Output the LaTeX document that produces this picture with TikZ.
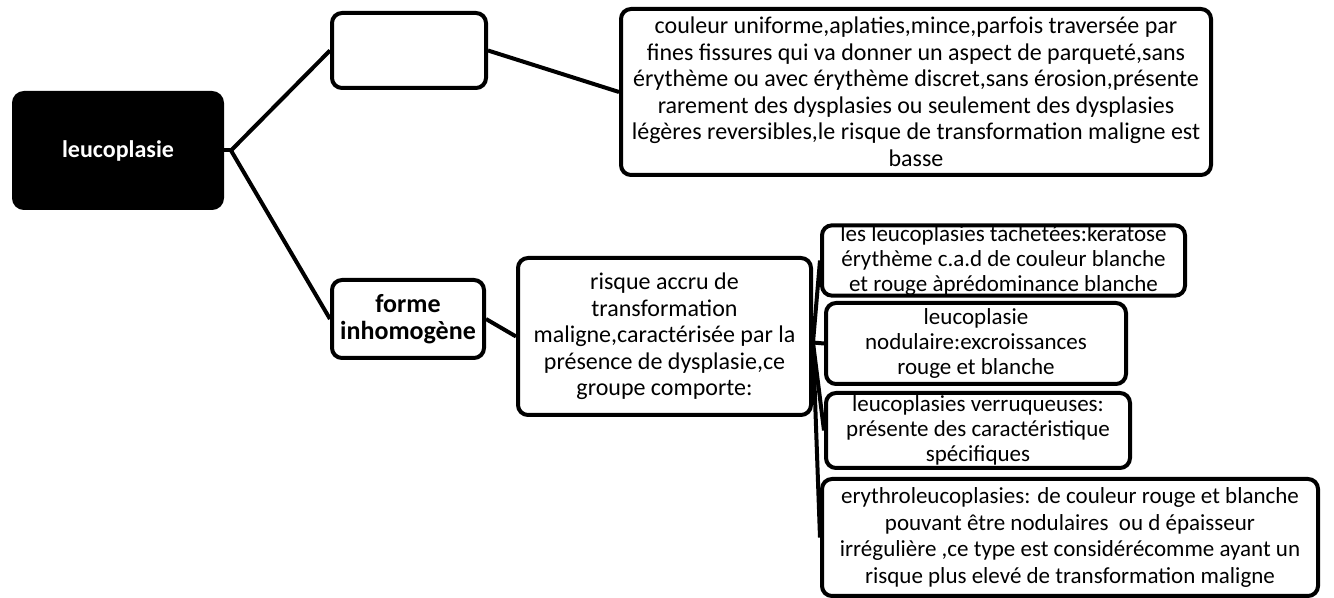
\documentclass[tikz,border=0pt]{standalone}
\usepackage{fontspec}
\setmainfont{Carlito}
\usepackage{tikz}
\usetikzlibrary{positioning}
\definecolor{inkblack}{RGB}{0,0,0}
\definecolor{paperwhite}{RGB}{255,255,255}

\begin{document}
\begin{tikzpicture}[
  x=0.5pt,y=-0.5pt,
  card/.style={
    draw=inkblack,
    fill=paperwhite,
    line width=2pt,
    rounded corners=5pt,
    inner sep=0pt,
    align=center,
    font=\fontsize{12}{13.25}\selectfont
  },
  leaf/.style={card,font=\fontsize{11.5}{12.6}\selectfont},
  root/.style={card,fill=inkblack,text=paperwhite,
    font=\fontsize{12}{14}\selectfont\bfseries},
  branch/.style={card,font=\fontsize{13}{13.5}\selectfont\bfseries},
  link/.style={draw=inkblack,line width=2pt}
]
\useasboundingbox (0,0) rectangle (1334,598);

\node[root,minimum width=104pt,minimum height=57.5pt] (leuco) at (118,150.5)
  {leucoplasie};
\node[card,minimum width=77pt,minimum height=37.5pt] (homo) at (409,50.5) {};
\node[card,minimum width=295pt,minimum height=83pt] (homotext) at (916,92)
  {couleur uniforme,aplaties,mince,parfois traversée par\\
   fines fissures qui va donner un aspect de parqueté,sans\\
   érythème ou avec érythème discret,sans érosion,présente\\
   rarement des dysplasies ou seulement des dysplasies\\
   légères reversibles,le risque de transformation maligne est\\
   basse};
\node[branch,minimum width=76pt,minimum height=39pt] (inhomo) at (408,319)
  {forme\\inhomogène};
\node[card,minimum width=146.5pt,minimum height=78.5pt] (risque) at (664.5,336.5)
  {risque accru de\\
   transformation\\
   maligne,caractérisée par la\\
   présence de dysplasie,ce\\
   groupe comporte:};
\node[leaf,minimum width=181.5pt,minimum height=30.5pt] (tache) at (1003.5,260.5)
  {les leucoplasies tachetées:keratose\\
   érythème c.a.d de couleur blanche\\
   et rouge àprédominance blanche};
\node[leaf,minimum width=150pt,minimum height=40.5pt] (nodul) at (976,343.5)
  {leucoplasie\\
   nodulaire:excroissances\\
   rouge et blanche};
\node[leaf,minimum width=152pt,minimum height=37.5pt] (verruq) at (978,430.5)
  {leucoplasies verruqueuses:\\
   présente des caractéristique\\
   spécifiques};
\node[card,font=\fontsize{11.5}{13.25}\selectfont,
  minimum width=248pt,minimum height=58.5pt] (erythro) at (1070,537.5)
  {erythroleucoplasies: de couleur rouge et blanche\\
   pouvant être nodulaires \ ou d épaisseur\\
   irrégulière ,ce type est considérécomme ayant un\\
   risque plus elevé de transformation maligne};

\coordinate (leucofork) at ([xshift=3.5pt]leuco.east);
\coordinate (risquefork) at ([yshift=-3pt]risque.east);
\draw[link] (leuco.east) -- (leucofork);
\draw[link] (leucofork) -- (homo.west);
\draw[link] (leucofork) -- (inhomo.west);
\draw[link] (homo.east) -- (homotext.west);
\draw[link] (inhomo.east) -- (risque.west);
\draw[link] (risquefork) -- (tache.west);
\draw[link] (risquefork) -- (nodul.west);
\draw[link] (risquefork) -- (verruq.west);
\draw[link] (risquefork) -- (erythro.west);
\end{tikzpicture}
\end{document}
